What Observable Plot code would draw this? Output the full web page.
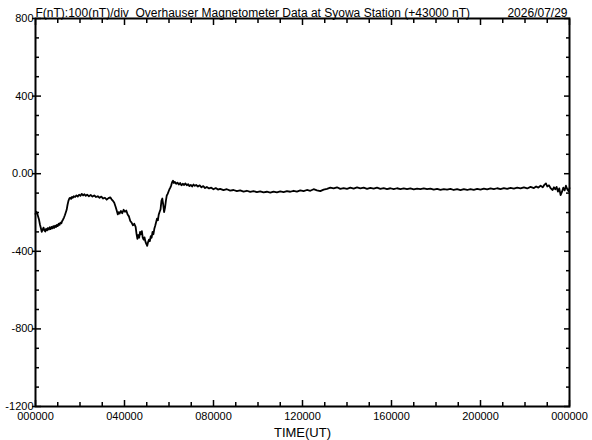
<!DOCTYPE html>
<html><head><meta charset="utf-8">
<script src="https://cdn.jsdelivr.net/npm/d3@7"></script>
<script src="https://cdn.jsdelivr.net/npm/@observablehq/plot@0.6"></script>
<style>
body{margin:0;background:#fff}
svg{font-family:"Liberation Sans",Arial,sans-serif}
</style>
</head><body><div id="chart"></div>
<script>
// [hour UT, F - 43000 nT]
const fSeries = [
[0.00,-207],[0.04,-196],[0.08,-205],[0.12,-222],[0.16,-238],[0.20,-262],[0.24,-280],[0.28,-300],[0.32,-288],[0.36,-278],
[0.40,-292],[0.44,-298],[0.48,-284],[0.52,-292],[0.56,-280],[0.60,-288],[0.64,-276],[0.68,-286],[0.72,-274],[0.76,-282],
[0.80,-270],[0.84,-279],[0.88,-268],[0.92,-275],[0.96,-264],[1.00,-270],[1.04,-258],[1.08,-264],[1.12,-252],[1.16,-256],
[1.20,-244],[1.24,-236],[1.28,-226],[1.32,-214],[1.36,-200],[1.40,-186],[1.44,-160],[1.48,-140],[1.52,-128],[1.56,-124],
[1.60,-130],[1.64,-120],[1.68,-124],[1.72,-116],[1.78,-120],[1.84,-112],[1.90,-118],[1.96,-108],[2.02,-114],[2.08,-104],
[2.14,-112],[2.20,-106],[2.26,-114],[2.32,-108],[2.40,-116],[2.48,-110],[2.56,-118],[2.64,-112],[2.72,-120],[2.80,-116],
[2.88,-124],[2.96,-118],[3.04,-128],[3.12,-124],[3.20,-134],[3.28,-126],[3.36,-122],[3.42,-132],[3.48,-140],[3.54,-150],
[3.60,-170],[3.65,-190],[3.70,-210],[3.74,-198],[3.78,-206],[3.84,-192],[3.90,-204],[3.96,-186],[4.02,-196],[4.08,-190],
[4.14,-210],[4.20,-220],[4.26,-244],[4.32,-252],[4.38,-266],[4.44,-258],[4.50,-274],[4.54,-310],[4.58,-336],[4.62,-316],
[4.66,-330],[4.70,-300],[4.74,-312],[4.78,-296],[4.82,-330],[4.86,-340],[4.90,-328],[4.94,-350],[4.98,-362],[5.02,-372],
[5.06,-352],[5.10,-340],[5.14,-348],[5.18,-322],[5.22,-330],[5.26,-300],[5.30,-312],[5.34,-284],[5.38,-268],[5.42,-250],
[5.46,-232],[5.50,-240],[5.54,-210],[5.58,-196],[5.62,-184],[5.66,-140],[5.70,-128],[5.74,-160],[5.78,-198],[5.82,-176],
[5.86,-140],[5.90,-112],[5.94,-104],[5.98,-92],[6.02,-80],[6.06,-72],[6.10,-60],[6.14,-44],[6.18,-36],[6.22,-48],
[6.26,-42],[6.32,-52],[6.38,-46],[6.44,-56],[6.50,-48],[6.56,-60],[6.62,-52],[6.68,-58],[6.74,-50],[6.80,-60],
[6.86,-54],[6.92,-64],[6.98,-58],[7.04,-66],[7.10,-56],[7.16,-62],[7.22,-58],[7.30,-66],[7.38,-60],[7.46,-70],
[7.54,-64],[7.62,-74],[7.70,-68],[7.80,-76],[7.90,-72],[8.00,-80],[8.10,-74],[8.20,-82],[8.30,-78],[8.45,-85],
[8.60,-80],[8.75,-87],[8.90,-84],[9.05,-90],[9.20,-86],[9.35,-92],[9.50,-88],[9.65,-94],[9.80,-90],[9.95,-95],
[10.10,-91],[10.25,-96],[10.40,-93],[10.55,-97],[10.70,-92],[10.85,-96],[11.00,-91],[11.15,-95],[11.30,-90],[11.45,-93],
[11.60,-88],[11.75,-92],[11.90,-86],[12.05,-90],[12.20,-84],[12.35,-88],[12.50,-80],[12.65,-86],[12.80,-90],[12.95,-82],
[13.10,-78],[13.25,-72],[13.40,-76],[13.55,-70],[13.70,-78],[13.85,-74],[14.00,-78],[14.15,-72],[14.30,-77],[14.45,-71],
[14.60,-76],[14.75,-72],[14.90,-78],[15.05,-73],[15.20,-77],[15.35,-72],[15.50,-78],[15.65,-74],[15.80,-79],[15.95,-75],
[16.10,-80],[16.25,-75],[16.40,-79],[16.55,-76],[16.70,-80],[16.85,-76],[17.00,-81],[17.15,-77],[17.30,-80],[17.45,-76],
[17.60,-80],[17.75,-77],[17.90,-82],[18.05,-78],[18.20,-83],[18.35,-79],[18.50,-82],[18.65,-78],[18.80,-84],[18.95,-80],
[19.10,-85],[19.25,-80],[19.40,-84],[19.55,-79],[19.70,-83],[19.85,-78],[20.00,-82],[20.15,-77],[20.30,-81],[20.45,-76],
[20.60,-80],[20.75,-75],[20.90,-79],[21.05,-74],[21.20,-78],[21.35,-73],[21.50,-77],[21.65,-72],[21.80,-76],[21.95,-70],
[22.10,-76],[22.25,-68],[22.40,-74],[22.50,-66],[22.60,-72],[22.70,-62],[22.80,-70],[22.88,-56],[22.94,-50],[23.00,-66],
[23.08,-60],[23.16,-76],[23.24,-84],[23.30,-70],[23.36,-80],[23.42,-68],[23.48,-92],[23.54,-76],[23.60,-110],[23.66,-94],
[23.72,-72],[23.78,-86],[23.84,-62],[23.90,-80],[23.96,-90],[24.00,-74]
];

const yMajorTicks = [-1200, -800, -400, 0, 400, 800];
const yTickLabels = ["-1200", "-800", "-400", "0.00", "400", "800"];
const yMinorTicks = [-1100, -1000, -900, -700, -600, -500, -300, -200, -100, 100, 200, 300, 500, 600, 700];
const xMajorTicks = [0, 4, 8, 12, 16, 20, 24];
const xTickLabels = ["000000", "040000", "080000", "120000", "160000", "200000", "000000"];
const xMinorTicks = [1, 2, 3, 5, 6, 7, 9, 10, 11, 13, 14, 15, 17, 18, 19, 21, 22, 23];
const titleText = "F(nT):100(nT)/div\u00a0 Overhauser Magnetometer Data at Syowa Station (+43000 nT)";
const dateText = "2026/07/29";
const xLabel = "TIME(UT)";

const data = fSeries.map(([h, v]) => ({h, v}));
const yFmt = d => yTickLabels[yMajorTicks.indexOf(d)];
const xFmt = d => xTickLabels[xMajorTicks.indexOf(d)];

const chart = Plot.plot({
  width: 592, height: 440,
  marginTop: 18, marginRight: 23, marginBottom: 34, marginLeft: 35,
  style: {background: "#fff", color: "#000", fontFamily: "Liberation Sans, Arial, sans-serif", fontSize: "11px"},
  x: {domain: [0, 24], label: null},
  y: {domain: [-1200, 800], label: null},
  marks: [
    Plot.axisY(yMinorTicks, {anchor: "left", tickSize: -4, fill: "none", label: null, strokeWidth: 1.5}),
    Plot.axisY(yMinorTicks, {anchor: "right", tickSize: -4, fill: "none", label: null, strokeWidth: 1.5}),
    Plot.axisY(yMajorTicks, {anchor: "left", tickSize: -6, fill: "none", label: null, strokeWidth: 1.5}),
    Plot.axisY(yMajorTicks, {anchor: "left", tickSize: 3, fill: "none", label: null, strokeWidth: 1.5}),
    Plot.axisY(yMajorTicks, {anchor: "right", tickSize: -6, fill: "none", label: null, strokeWidth: 1.5}),
    Plot.axisY(yMajorTicks, {anchor: "left", tickSize: 0, tickPadding: 2, tickFormat: yFmt, label: null, fontSize: 11}),
    Plot.axisX(xMinorTicks, {anchor: "bottom", tickSize: -4, fill: "none", label: null, strokeWidth: 1.5}),
    Plot.axisX(xMinorTicks, {anchor: "top", tickSize: -4, fill: "none", label: null, strokeWidth: 1.5}),
    Plot.axisX(xMajorTicks, {anchor: "bottom", tickSize: -6, fill: "none", label: null, strokeWidth: 1.5}),
    Plot.axisX(xMajorTicks, {anchor: "top", tickSize: -6, fill: "none", label: null, strokeWidth: 1.5}),
    Plot.axisX(xMajorTicks, {anchor: "bottom", tickSize: 0, tickPadding: 6, tickFormat: xFmt, label: null, fontSize: 11}),
    Plot.frame({stroke: "#000", strokeWidth: 2}),
    Plot.line(data, {x: "h", y: "v", stroke: "#000", strokeWidth: 1.8}),
    Plot.text([titleText], {frameAnchor: "top-left", textAnchor: "start", lineAnchor: "bottom", dy: -2, fontSize: 12}),
    Plot.text([dateText], {frameAnchor: "top-right", textAnchor: "end", lineAnchor: "bottom", dx: -2, dy: -2, fontSize: 12}),
    Plot.text([xLabel], {frameAnchor: "bottom", lineAnchor: "middle", dy: 26, fontSize: 13})
  ]
});
document.getElementById("chart").append(chart);
</script>
</body></html>
